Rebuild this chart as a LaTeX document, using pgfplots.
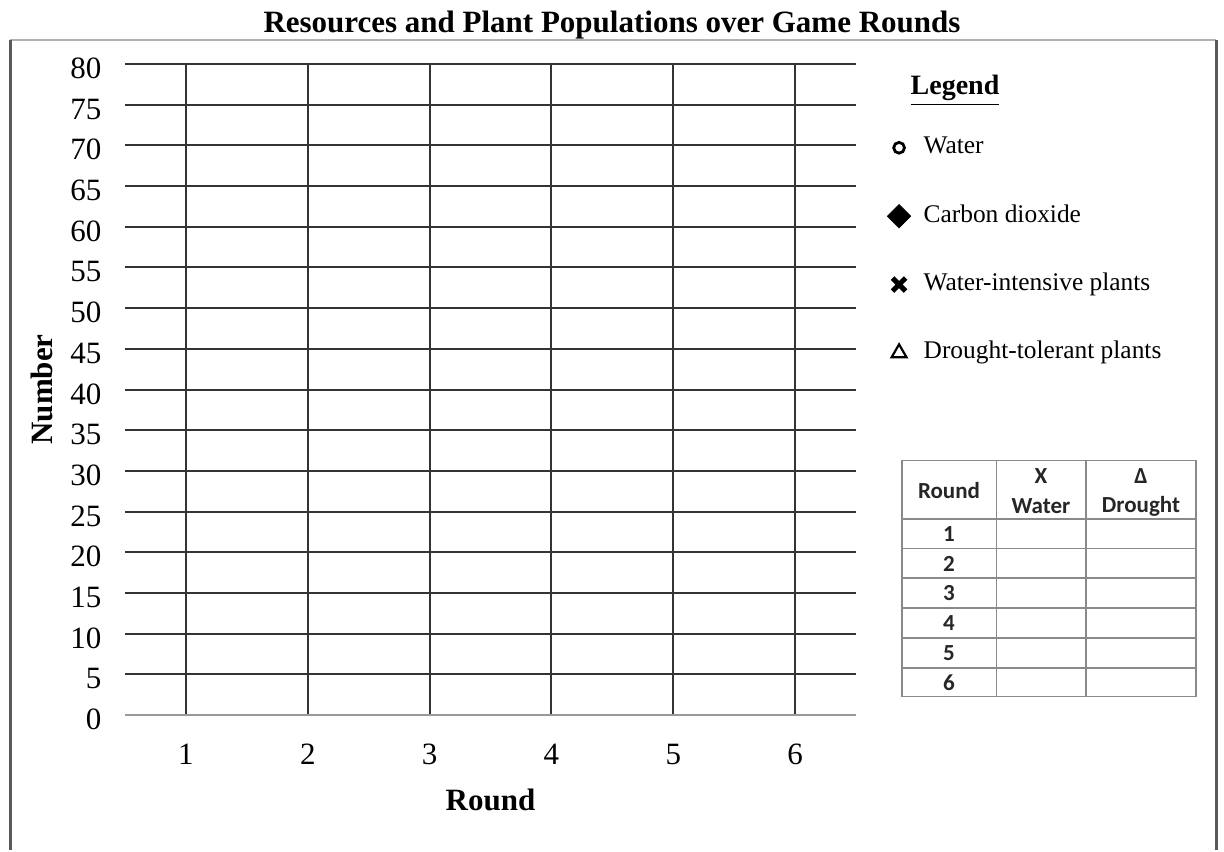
\documentclass[border=0pt]{standalone}
\usepackage{pgfplots}
\pgfplotsset{compat=1.18}
\usepackage{fontspec}
\setmainfont{Liberation Serif}
\newfontfamily\carlito{Carlito}
\definecolor{gridc}{HTML}{333333}
\definecolor{framec}{HTML}{5A5A5A}
\definecolor{tabc}{HTML}{8A8A8A}
\begin{document}
\begin{tikzpicture}
% page in pixel units of the reference (1 px = 0.5 pt), y downward
\begin{scope}[x=0.5pt,y=-0.5pt,yshift=422pt]
\useasboundingbox (0,0) rectangle (1224,844);
\end{scope}

\begin{axis}[
  at={(62.5pt,64.5pt)}, anchor=south west,
  scale only axis, width=365.5pt, height=325.5pt,
  xmin=0.5, xmax=6.5, ymin=0, ymax=80,
  axis line style={draw=none},
  major tick length=0pt,
  xtick={1,2,3,4,5,6},
  ytick={5,10,...,80},
  extra y ticks={0},
  extra y tick style={grid style={black!40, line width=0.6pt}},
  grid=major,
  grid style={gridc, line width=1pt},
  /pgf/number format/assume math mode=true,
  tick label style={font=\fontsize{15.5}{18}\selectfont, text height=10.5pt, text depth=0pt},
  yticklabel style={anchor=east, xshift=-8.3pt, yshift=-2pt},
  xticklabel style={anchor=north, yshift=-10.8pt},
  xlabel={Round}, ylabel={Number},
  label style={font=\fontsize{15.5}{18}\selectfont\bfseries},
  xlabel style={at={(axis description cs:0.5,-0.1306)}, anchor=center},
  ylabel style={at={(axis description cs:-0.1135,0.5)}, anchor=center},
  legend cell align=left,
  legend style={
    at={(axis description cs:1.0425,0.895)}, anchor=north west,
    draw=none, fill=none, inner sep=0pt,
    font=\fontsize{12.7}{15}\selectfont,
    row sep=19.2pt, column sep=4.5pt,
    nodes={inner sep=2pt, text height=8.5pt, text depth=2.5pt},
  },
]
\addlegendimage{only marks, black, mark=o, mark size=2.7pt, mark options={line width=1.4pt}}
\addlegendentry{Water}
\addlegendimage{only marks, black, mark=square*, mark size=4.1pt, mark options={rotate=45, fill=black}}
\addlegendentry{Carbon dioxide}
\addlegendimage{only marks, black, mark=x, mark size=4.6pt, mark options={line width=2.5pt}}
\addlegendentry{Water-intensive plants}
\addlegendimage{only marks, black, mark=triangle, mark size=4.3pt, mark options={line width=1.1pt}}
\addlegendentry{Drought-tolerant plants}
\end{axis}

\begin{scope}[x=0.5pt,y=-0.5pt,yshift=422pt]
% frame
\draw[black!30, line width=1pt] (10,40) -- (1216,40);
\draw[framec, line width=1.5pt] (10,40) -- (10,850);
\draw[framec, line width=1.5pt] (1216,40) -- (1216,850);
% title
\node[anchor=base, font=\fontsize{15.5}{18}\selectfont\bfseries, inner sep=0pt]
  at (612,33) {Resources and Plant Populations over Game Rounds};
% legend heading
\node[anchor=base, font=\fontsize{14}{16}\selectfont\bfseries, inner sep=0pt]
  at (955,95) {\underline{Legend}};
% data table (blank template)
\draw[tabc, line width=0.75pt] (902,460.5) rectangle (1196,696.5);
\foreach \yy in {519,548.5,578,608,638,668} {\draw[tabc, line width=0.75pt] (902,\yy) -- (1196,\yy);}
\draw[tabc, line width=0.75pt] (996.5,460.5) -- (996.5,696.5);
\draw[tabc, line width=0.75pt] (1086,460.5) -- (1086,696.5);
\begin{scope}[every node/.style={font=\carlito\bfseries\fontsize{11.5}{13}\selectfont, text=black!85, inner sep=0pt}]
\node at (949,490.5) {Round};
\node at (1041,476.5) {X};
\node at (1041,506.5) {Water};
\node at (1141,476) {Δ};
\node at (1141,506.5) {Drought};
\node at (949,534) {1};
\node at (949,563.5) {2};
\node at (949,593) {3};
\node at (949,623) {4};
\node at (949,653) {5};
\node at (949,682.5) {6};
\end{scope}
\end{scope}
\end{tikzpicture}
\end{document}
